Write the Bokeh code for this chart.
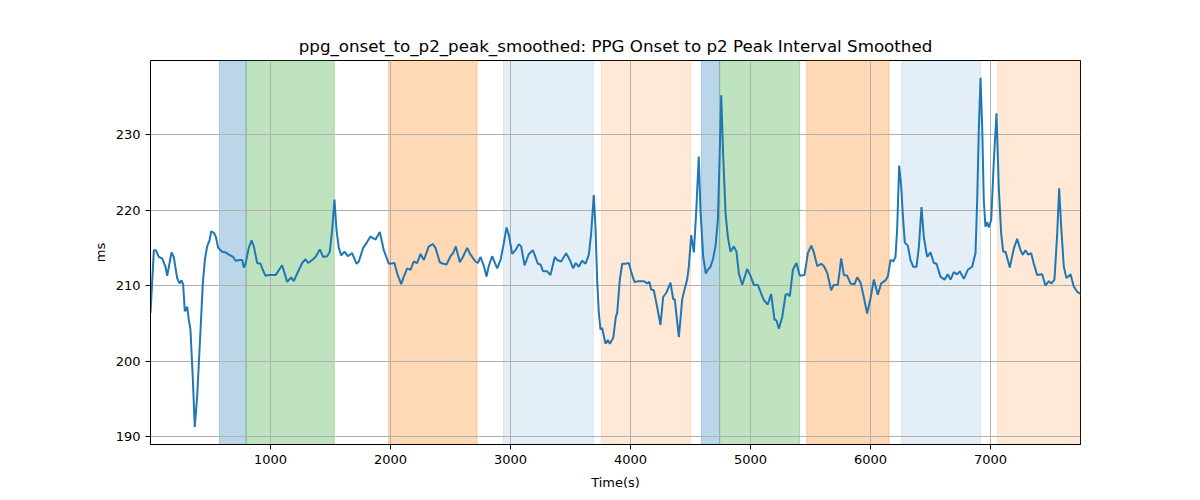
from bokeh.plotting import figure
from bokeh.models import Range1d, FixedTicker, ColumnDataSource
from bokeh.embed import file_html
from bokeh.resources import INLINE

time_s = [0, 28, 45, 69, 97, 125, 139, 175, 194, 222, 242, 258, 272, 286, 306, 319, 333, 353, 369, 389,
          417, 436, 453, 472, 492, 506, 528, 544, 564, 597, 625, 653, 689, 708, 744, 764, 778, 792, 819, 842,
          861, 889, 917, 931, 958, 986, 1042, 1097, 1139, 1172, 1194, 1222, 1264, 1292, 1314, 1347, 1375, 1411,
          1439, 1472, 1494, 1514, 1533, 1550, 1569, 1589, 1617, 1644, 1681, 1717, 1736, 1772, 1806, 1833, 1875,
          1911, 1944, 1986, 2033, 2056, 2089, 2111, 2139, 2167, 2194, 2222, 2250, 2278, 2319, 2353, 2375, 2411,
          2439, 2467, 2500, 2522, 2544, 2578, 2606, 2639, 2667, 2708, 2728, 2750, 2778, 2800, 2819, 2847, 2889,
          2917, 2944, 2967, 2986, 3014, 3042, 3069, 3089, 3117, 3153, 3186, 3208, 3228, 3250, 3272, 3306, 3333,
          3369, 3389, 3422, 3464, 3494, 3522, 3544, 3569, 3597, 3625, 3653, 3672, 3694, 3708, 3722, 3736, 3750,
          3764, 3792, 3811, 3828, 3856, 3878, 3889, 3911, 3931, 3958, 3986, 4006, 4033, 4069, 4111, 4139, 4158,
          4172, 4194, 4222, 4250, 4272, 4300, 4333, 4356, 4369, 4403, 4431, 4450, 4472, 4486, 4506, 4528, 4547,
          4569, 4583, 4606, 4628, 4644, 4667, 4689, 4708, 4728, 4742, 4756, 4772, 4792, 4811, 4833, 4861, 4883,
          4903, 4931, 4972, 5000, 5028, 5061, 5083, 5111, 5144, 5172, 5200, 5217, 5236, 5264, 5292, 5311, 5328,
          5353, 5383, 5411, 5450, 5478, 5506, 5528, 5556, 5589, 5611, 5639, 5672, 5694, 5728, 5756, 5778, 5806,
          5833, 5867, 5889, 5917, 5944, 5972, 6000, 6028, 6061, 6089, 6125, 6144, 6167, 6189, 6208, 6222, 6239,
          6256, 6272, 6286, 6311, 6333, 6356, 6383, 6403, 6425, 6444, 6472, 6500, 6528, 6550, 6583, 6617, 6644,
          6667, 6694, 6722, 6744, 6778, 6811, 6847, 6875, 6889, 6903, 6917, 6931, 6944, 6958, 6972, 6986, 7006,
          7028, 7050, 7069, 7089, 7106, 7125, 7161, 7194, 7222, 7250, 7269, 7292, 7314, 7339, 7361, 7389, 7431,
          7458, 7486, 7508, 7533, 7556, 7572, 7589, 7611, 7633, 7667, 7694, 7722, 7750]

ms_values = [206.4, 214.7, 214.7, 213.8, 213.6, 212.5, 211.3, 214.4, 213.8, 211.0, 210.3, 210.7, 210.2, 206.6,
             207.2, 205.5, 204.2, 197.6, 191.3, 195.4, 204.2, 210.3, 213.4, 215.2, 216.0, 217.2, 217.0, 216.5,
             215.0, 214.5, 214.4, 214.1, 213.8, 213.3, 213.4, 213.4, 212.4, 212.9, 215.0, 216.0, 215.2, 213.0,
             212.9, 212.3, 211.3, 211.4, 211.4, 212.7, 210.5, 211.1, 210.6, 211.6, 213.0, 213.5, 213.0, 213.4,
             213.8, 214.8, 213.8, 213.9, 214.5, 217.4, 221.4, 217.4, 215.0, 214.0, 214.5, 213.9, 214.3, 212.9,
             213.2, 215.0, 215.8, 216.5, 216.1, 217.1, 214.7, 212.9, 213.0, 211.6, 210.2, 211.2, 212.3, 212.1,
             213.2, 213.0, 214.2, 213.4, 215.2, 215.5, 215.0, 213.1, 212.9, 212.8, 213.9, 214.3, 215.2, 213.1,
             213.9, 215.0, 214.1, 213.2, 213.0, 213.8, 212.6, 211.2, 212.6, 213.9, 212.3, 213.4, 215.6, 217.7,
             216.7, 214.2, 214.7, 215.5, 215.2, 212.7, 214.2, 214.7, 213.8, 212.9, 212.8, 211.9, 211.9, 211.4,
             213.8, 213.4, 213.2, 214.3, 213.4, 212.3, 213.0, 212.5, 213.3, 212.9, 214.1, 216.9, 222.0, 217.8,
             210.8, 206.4, 204.2, 204.4, 202.3, 202.8, 202.3, 203.1, 205.9, 206.4, 210.8, 212.9, 212.9, 213.0,
             211.8, 210.5, 210.6, 210.6, 210.3, 210.5, 209.5, 209.4, 207.2, 204.8, 208.5, 209.1, 210.4, 208.2,
             208.2, 203.2, 208.2, 209.5, 210.8, 212.5, 216.7, 214.4, 219.6, 227.1, 220.0, 213.8, 211.6, 212.1,
             212.5, 213.6, 215.2, 218.7, 226.6, 235.2, 227.4, 219.6, 216.5, 214.5, 215.2, 214.5, 211.6, 210.1,
             212.2, 211.3, 210.1, 210.1, 209.2, 208.1, 207.5, 208.9, 205.5, 205.4, 204.3, 205.8, 208.8, 208.9,
             208.6, 212.1, 213.0, 211.3, 211.4, 214.3, 215.3, 214.4, 212.6, 212.9, 212.6, 211.7, 209.4, 210.1,
             210.1, 213.6, 211.4, 211.3, 210.3, 210.2, 211.1, 210.4, 208.5, 206.3, 208.3, 210.8, 208.8, 210.3,
             210.7, 211.2, 213.4, 213.2, 213.8, 217.4, 225.9, 223.1, 218.7, 215.7, 215.3, 213.4, 212.5, 212.5,
             215.1, 220.4, 216.5, 213.8, 214.4, 213.0, 212.9, 211.2, 210.8, 211.5, 210.8, 211.8, 211.5, 211.9,
             210.9, 212.1, 212.5, 214.3, 221.3, 230.9, 237.5, 230.9, 221.3, 217.8, 218.4, 217.7, 218.7, 226.6,
             232.8, 223.0, 216.9, 214.5, 214.5, 212.4, 214.9, 216.2, 214.7, 214.1, 214.7, 214.1, 214.3, 212.9,
             211.4, 211.5, 210.0, 210.6, 210.3, 210.8, 216.9, 222.9, 217.8, 212.5, 211.0, 211.5, 209.9, 209.2,
             208.9]

band_start = [575, 797, 1983, 2942, 3758, 4592, 4743, 5468, 6259, 7059]
band_end = [797, 1531, 2722, 3690, 4502, 4743, 5408, 6155, 6918, 7750]
band_kind = ["blue", "green", "orange", "lightblue", "lightorange",
             "blue", "green", "orange", "lightblue", "lightorange"]

x_ticks = [1000, 2000, 3000, 4000, 5000, 6000, 7000]
y_ticks = [190, 200, 210, 220, 230]

title_text = "ppg_onset_to_p2_peak_smoothed: PPG Onset to p2 Peak Interval Smoothed"
x_label = "Time(s)"
y_label = "ms"

kind_style = {
    "blue": ("#1f77b4", 0.3),
    "green": ("#2ca02c", 0.3),
    "orange": ("#ff7f0e", 0.3),
    "lightblue": ("#1f77b4", 0.12),
    "lightorange": ("#ff7f0e", 0.17),
}

FONT = "DejaVu Sans"

p = figure(width=1184, height=492, output_backend="svg", toolbar_location=None,
           x_range=Range1d(0, 7750), y_range=Range1d(188.98, 239.8),
           min_border_left=150, min_border_right=104, min_border_top=60, min_border_bottom=47,
           title=title_text)

band_src = ColumnDataSource(dict(
    left=band_start, right=band_end,
    color=[kind_style[k][0] for k in band_kind],
    alpha=[kind_style[k][1] for k in band_kind],
))
p.quad(left="left", right="right", bottom=188.98, top=239.8, source=band_src,
       fill_color="color", fill_alpha="alpha", line_color="color", line_alpha="alpha",
       line_width=1, level="image")

p.line(time_s, ms_values, line_color="#1f77b4", line_width=2)

p.title.align = "center"
p.title.text_font = FONT
p.title.text_font_style = "normal"
p.title.text_font_size = "16.7px"
p.title.text_color = "black"

p.outline_line_color = "black"
p.outline_line_alpha = 1
p.outline_line_width = 1

for ax in (p.xaxis, p.yaxis):
    ax.axis_line_color = "black"
    ax.major_tick_line_color = "black"
    ax.major_tick_out = 5
    ax.major_tick_in = 0
    ax.minor_tick_line_color = None
    ax.major_label_text_font = FONT
    ax.major_label_text_font_size = "13px"
    ax.major_label_text_color = "black"
    ax.axis_label_text_font = FONT
    ax.axis_label_text_font_size = "13px"
    ax.axis_label_text_font_style = "normal"
    ax.axis_label_text_color = "black"

p.xaxis.ticker = FixedTicker(ticks=x_ticks)
p.yaxis.ticker = FixedTicker(ticks=y_ticks)
p.xaxis.axis_label = x_label
p.yaxis.axis_label = y_label
p.xaxis.axis_label_standoff = 8

p.grid.grid_line_color = "#b0b0b0"
p.grid.grid_line_width = 1
p.xgrid.ticker = FixedTicker(ticks=x_ticks)
p.ygrid.ticker = FixedTicker(ticks=y_ticks)

open("out.html", "w").write(file_html(p, INLINE))
